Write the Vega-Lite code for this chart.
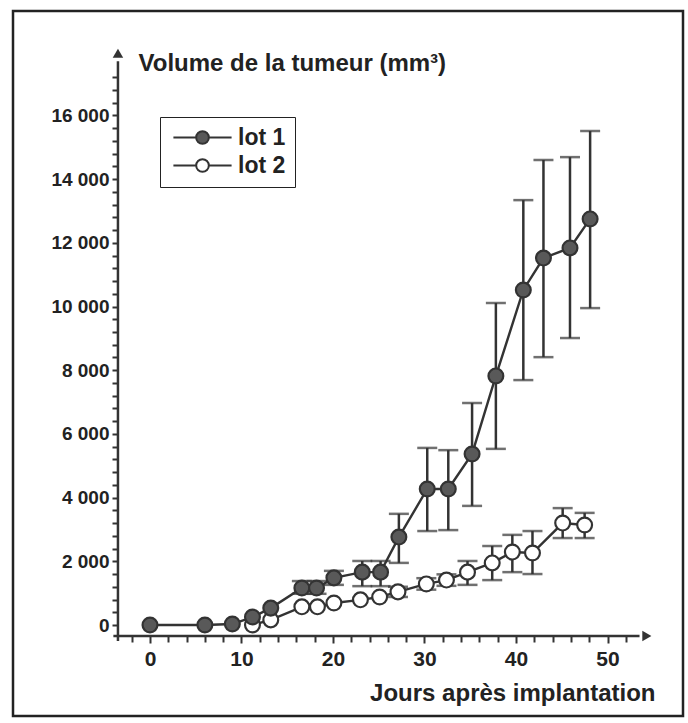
{
  "$schema": "https://vega.github.io/schema/vega-lite/v6.json",
  "width": 670,
  "height": 705,
  "autosize": {"type": "none"},
  "padding": {"left": 13, "top": 11, "right": 5, "bottom": 7},
  "background": "white",
  "config": {
    "view": {"stroke": "#222", "strokeWidth": 2.5},
    "font": "Liberation Sans",
    "axis": {"grid": false, "domain": false, "tickColor": "#333", "tickWidth": 2, "labelColor": "#222", "titleColor": "#222", "labelFontWeight": "bold", "titleFontWeight": "bold", "labelOverlap": false, "labelBound": false, "labelFlush": false}
  },
  "resolve": {"axis": {"x": "independent", "y": "independent"}},
  "datasets": {
    "pts": [
      {"lot": "lot 2", "day": 11.2, "vol": 0},
      {"lot": "lot 2", "day": 13.2, "vol": 160},
      {"lot": "lot 2", "day": 16.6, "vol": 570},
      {"lot": "lot 2", "day": 18.3, "vol": 570},
      {"lot": "lot 2", "day": 20.1, "vol": 690},
      {"lot": "lot 2", "day": 23.0, "vol": 790},
      {"lot": "lot 2", "day": 25.1, "vol": 880},
      {"lot": "lot 2", "day": 27.1, "vol": 1040, "lo": 880, "hi": 1200},
      {"lot": "lot 2", "day": 30.2, "vol": 1290, "lo": 1110, "hi": 1470},
      {"lot": "lot 2", "day": 32.4, "vol": 1410, "lo": 1230, "hi": 1590},
      {"lot": "lot 2", "day": 34.7, "vol": 1660, "lo": 1260, "hi": 2010},
      {"lot": "lot 2", "day": 37.4, "vol": 1950, "lo": 1410, "hi": 2480},
      {"lot": "lot 2", "day": 39.6, "vol": 2290, "lo": 1660, "hi": 2830},
      {"lot": "lot 2", "day": 41.8, "vol": 2260, "lo": 1600, "hi": 2950},
      {"lot": "lot 2", "day": 45.1, "vol": 3200, "lo": 2730, "hi": 3670},
      {"lot": "lot 2", "day": 47.5, "vol": 3140, "lo": 2730, "hi": 3520},
      {"lot": "lot 1", "day": 0, "vol": 0},
      {"lot": "lot 1", "day": 6, "vol": 0},
      {"lot": "lot 1", "day": 9, "vol": 30},
      {"lot": "lot 1", "day": 11.2, "vol": 250},
      {"lot": "lot 1", "day": 13.2, "vol": 530},
      {"lot": "lot 1", "day": 16.6, "vol": 1160, "lo": 980, "hi": 1380},
      {"lot": "lot 1", "day": 18.2, "vol": 1160, "lo": 980, "hi": 1380},
      {"lot": "lot 1", "day": 20.1, "vol": 1480, "lo": 1260, "hi": 1700},
      {"lot": "lot 1", "day": 23.2, "vol": 1660, "lo": 1220, "hi": 2010},
      {"lot": "lot 1", "day": 25.2, "vol": 1660, "lo": 1220, "hi": 2010},
      {"lot": "lot 1", "day": 27.2, "vol": 2760, "lo": 1950, "hi": 3490},
      {"lot": "lot 1", "day": 30.3, "vol": 4270, "lo": 2950, "hi": 5560},
      {"lot": "lot 1", "day": 32.6, "vol": 4270, "lo": 2980, "hi": 5490},
      {"lot": "lot 1", "day": 35.2, "vol": 5370, "lo": 3740, "hi": 6970},
      {"lot": "lot 1", "day": 37.8, "vol": 7820, "lo": 5530, "hi": 10110},
      {"lot": "lot 1", "day": 40.8, "vol": 10520, "lo": 7690, "hi": 13340},
      {"lot": "lot 1", "day": 43.0, "vol": 11520, "lo": 8410, "hi": 14600},
      {"lot": "lot 1", "day": 45.9, "vol": 11840, "lo": 9010, "hi": 14690},
      {"lot": "lot 1", "day": 48.1, "vol": 12750, "lo": 9950, "hi": 15510}
    ],
    "axislines": [
      {"x1": -3.5, "x2": -3.5, "y1": -500, "y2": 17700},
      {"x1": -4, "x2": 53.5, "y1": -345, "y2": -345}
    ],
    "arrows": [
      {"x": -3.5, "y": 17950, "shape": "triangle-up"},
      {"x": 54.3, "y": -345, "shape": "triangle-right"}
    ]
  },
  "layer": [
    {
      "data": {"name": "axislines"},
      "mark": {"type": "rule", "color": "#333", "strokeWidth": 2.5},
      "encoding": {
        "x": {"field": "x1", "type": "quantitative", "scale": {"domain": [-14.97, 58.25], "nice": false, "zero": false},
          "axis": {"orient": "bottom", "title": "Jours après implantation", "offset": -80,
            "values": [0, 10, 20, 30, 40, 50],
            "tickSize": 7, "labelPadding": 5, "labelFontSize": 21,
            "titleFontSize": 24, "titleAlign": "right", "titleBaseline": "alphabetic", "titleX": 642, "titleY": 64}},
        "x2": {"field": "x2"},
        "y": {"field": "y1", "type": "quantitative", "scale": {"domain": [-2857, 19278], "nice": false, "zero": false},
          "axis": {"orient": "left", "title": "Volume de la tumeur (mm³)", "offset": -105,
            "values": [0, 2000, 4000, 6000, 8000, 10000, 12000, 14000, 16000],
            "labelExpr": "datum.value === 0 ? '0' : (datum.value / 1000) + ' 000'",
            "tickSize": 6, "labelPadding": 3, "labelFontSize": 19,
            "titleFontSize": 24, "titleAngle": 0, "titleAlign": "left", "titleBaseline": "alphabetic", "titleX": 20, "titleY": 59}},
        "y2": {"field": "y2"}
      }
    },
    {
      "data": {"name": "arrows"},
      "mark": {"type": "point", "filled": true, "color": "#333", "size": 110, "opacity": 1},
      "encoding": {
        "x": {"field": "x", "type": "quantitative", "scale": {"domain": [-14.97, 58.25], "nice": false, "zero": false},
          "axis": {"orient": "bottom", "title": null, "offset": -80, "labels": false,
            "values": [-2, 2, 4, 6, 8, 12, 14, 16, 18, 22, 24, 26, 28, 32, 34, 36, 38, 42, 44, 46, 48, 52],
            "tickSize": 6}},
        "y": {"field": "y", "type": "quantitative", "scale": {"domain": [-2857, 19278], "nice": false, "zero": false},
          "axis": {"orient": "left", "title": null, "offset": -105, "labels": false,
            "values": [400, 800, 1200, 1600, 2400, 2800, 3200, 3600, 4400, 4800, 5200, 5600, 6400, 6800, 7200, 7600, 8400, 8800, 9200, 9600, 10400, 10800, 11200, 11600, 12400, 12800, 13200, 13600, 14400, 14800, 15200, 15600, 16400, 16800, 17200],
            "tickSize": 6}},
        "shape": {"field": "shape", "type": "nominal", "scale": null}
      }
    },
    {
      "data": {"name": "pts"},
      "transform": [{"filter": "isValid(datum.lo)"}],
      "mark": {"type": "errorbar", "color": "#333", "ticks": {"size": 20, "thickness": 2.5}, "rule": {"strokeWidth": 2.5}},
      "encoding": {
        "x": {"field": "day", "type": "quantitative", "scale": {"domain": [-14.97, 58.25], "nice": false, "zero": false}, "axis": null},
        "y": {"field": "lo", "type": "quantitative", "scale": {"domain": [-2857, 19278], "nice": false, "zero": false}, "axis": null},
        "y2": {"field": "hi"},
        "detail": {"field": "lot"}
      }
    },
    {
      "data": {"name": "pts"},
      "mark": {"type": "line", "color": "#333", "strokeWidth": 2.4},
      "encoding": {
        "x": {"field": "day", "type": "quantitative", "scale": {"domain": [-14.97, 58.25], "nice": false, "zero": false}, "axis": null},
        "y": {"field": "vol", "type": "quantitative", "scale": {"domain": [-2857, 19278], "nice": false, "zero": false}, "axis": null},
        "detail": {"field": "lot"}
      }
    },
    {
      "data": {"name": "pts"},
      "mark": {"type": "point", "shape": "circle", "filled": true, "size": 220, "stroke": "#333", "strokeWidth": 2.2, "opacity": 1},
      "encoding": {
        "x": {"field": "day", "type": "quantitative", "scale": {"domain": [-14.97, 58.25], "nice": false, "zero": false}, "axis": null},
        "y": {"field": "vol", "type": "quantitative", "scale": {"domain": [-2857, 19278], "nice": false, "zero": false}, "axis": null},
        "fill": {"field": "lot", "type": "nominal",
          "scale": {"domain": ["lot 1", "lot 2"], "range": ["#595959", "#ffffff"]},
          "legend": {"orient": "none", "legendX": 147, "legendY": 106, "title": null,
            "symbolType": "M-4.6,0L-1,0M1,0L4.6,0M-1,0A1,1,0,1,1,1,0A1,1,0,1,1,-1,0Z",
            "symbolSize": 160, "symbolStrokeColor": "#333", "symbolStrokeWidth": 2,
            "labelFontSize": 23, "labelFontWeight": "bold", "labelColor": "#222",
            "strokeColor": "#222", "fillColor": "white", "padding": 9,
            "symbolOffset": 22, "labelOffset": 24, "rowPadding": 4,
            "encode": {"legend": {"update": {"strokeWidth": {"value": 2}}}}}
        }
      }
    }
  ]
}
